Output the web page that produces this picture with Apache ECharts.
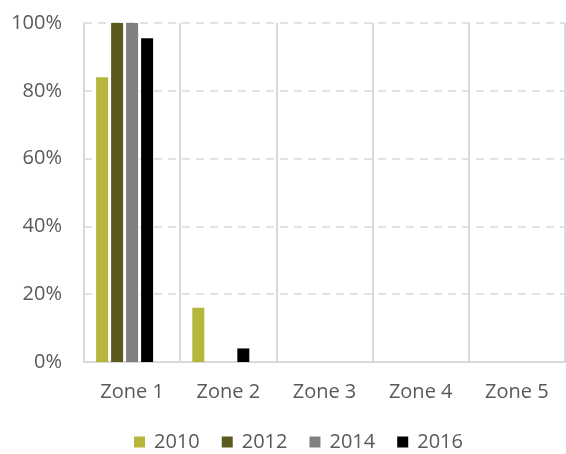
<!DOCTYPE html>
<html>
<head>
<meta charset="utf-8">
<script src="https://cdn.jsdelivr.net/npm/echarts@6/dist/echarts.min.js"></script>
<style>
  html, body { margin: 0; padding: 0; background: #fff; }
  #chart { width: 566px; height: 454px; }
</style>
</head>
<body>
<div id="chart"></div>
<script>
var zones = ['Zone 1', 'Zone 2', 'Zone 3', 'Zone 4', 'Zone 5'];
var years = ['2010', '2012', '2014', '2016'];
var v2010 = [84, 16, 0, 0, 0];
var v2012 = [100, 0, 0, 0, 0];
var v2014 = [100, 0, 0, 0, 0];
var v2016 = [95.5, 4, 0, 0, 0];
// empty fifth slot in each group, as in the original layout
var spare = [null, null, null, null, null];
var colors = ['#b6b53c', '#5b5a1e', '#808080', '#000000'];

var font = 'Open Sans';
var textColor = '#595959';

function bar(name, data, color) {
    return {
        name: name,
        type: 'bar',
        data: data,
        barWidth: 12,
        barGap: '25%',
        itemStyle: { color: color },
        emphasis: { disabled: true }
    };
}

var option = {
    animation: false,
    textStyle: { fontFamily: font },
    grid: { left: 84, right: 1, top: 23, bottom: 92 },
    legend: {
        data: years,
        top: 427,
        left: 129,
        itemWidth: 11,
        itemHeight: 11,
        itemGap: 22,
        icon: 'rect',
        textStyle: { color: textColor, fontSize: 20, fontFamily: font, padding: [0, 0, 0, 4] }
    },
    xAxis: {
        type: 'category',
        data: zones,
        axisLine: { lineStyle: { color: '#d9d9d9', width: 2 } },
        axisTick: { show: false },
        splitLine: { show: true, lineStyle: { color: '#d9d9d9', width: 2 } },
        axisLabel: { color: textColor, fontSize: 20, margin: 20 }
    },
    yAxis: {
        type: 'value',
        min: 0,
        max: 100,
        interval: 20,
        axisLine: { show: false },
        axisTick: { show: false },
        splitLine: { lineStyle: { color: '#d9d9d9', width: 1.5, type: [8, 6] } },
        axisLabel: { color: textColor, fontSize: 20, margin: 22, formatter: '{value}%' }
    },
    series: [
        bar(years[0], v2010, colors[0]),
        bar(years[1], v2012, colors[1]),
        bar(years[2], v2014, colors[2]),
        bar(years[3], v2016, colors[3]),
        bar('', spare, 'transparent')
    ]
};

var myChart = echarts.init(document.getElementById('chart'));
myChart.setOption(option);
</script>
</body>
</html>
